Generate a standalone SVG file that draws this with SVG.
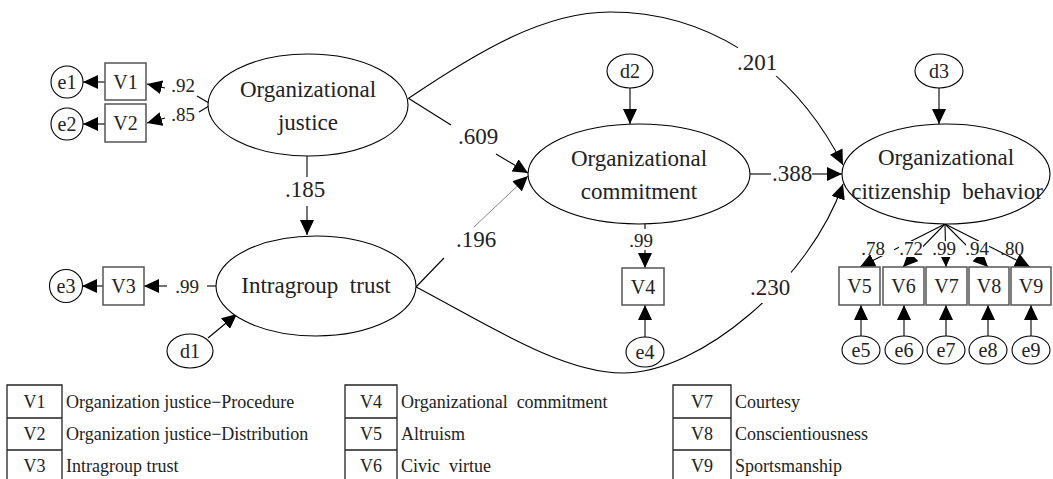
<svg xmlns="http://www.w3.org/2000/svg" width="1053" height="479" viewBox="0 0 1053 479" font-family="'Liberation Serif', 'DejaVu Serif', serif">
<defs>
<marker id="ah" markerUnits="userSpaceOnUse" markerWidth="16" markerHeight="14" refX="15" refY="7" orient="auto">
<path d="M0,0 L15,7 L0,14 z" fill="#000"/>
</marker>
<style>
text{font-family:'Liberation Serif','DejaVu Serif',serif;fill:#222;text-anchor:middle}
.big{font-size:23px}
.sm{font-size:20px}
.lab{font-size:19px}
.lg{font-size:18px}
.lgl{font-size:18px;text-anchor:start}
.ov{fill:#fff;stroke:#000;stroke-width:1.1}
.bx{fill:#fff;stroke:#555;stroke-width:1.5}
.c{fill:none;stroke:#000;stroke-width:1.1}
.ca{fill:none;stroke:#000;stroke-width:1.1;marker-end:url(#ah)}
.cg{fill:none;stroke:#888;stroke-width:1;marker-end:url(#ah)}
.bg{fill:#fff}
.tb{stroke:#222;stroke-width:1.3;fill:none}
</style>
</defs>
<rect width="1053" height="479" fill="#fff"/>

<g id="connectors">
<path class="ca" d="M105,82 L83,82"/>
<path class="ca" d="M105,124 L83,124"/>
<path class="c" d="M209,103 L197,96"/>
<path class="ca" d="M165,88 L147,84"/>
<path class="c" d="M209,106 L199,112"/>
<path class="ca" d="M165,118 L147,123"/>
<path class="c" d="M217,286 L207,286"/>
<path class="ca" d="M167,286 L144,286"/>
<path class="ca" d="M103,286 L82,286"/>
<path class="ca" d="M208,338 L237,314"/>
<path class="c" d="M307,156 L307,177"/>
<path class="ca" d="M307,206 L307,235"/>
<path class="c" d="M408,98 L451,125"/>
<path class="ca" d="M496,154 L528,173"/>
<path class="c" d="M416,287 L444,258"/>
<path class="cg" d="M474,227 L528,176"/>
<path class="ca" d="M630,88 L630,124"/>
<path class="c" d="M645,224 L645,229"/>
<path class="ca" d="M645,250 L645,268"/>
<path class="ca" d="M645,337 L645,305"/>
<path class="c" d="M750,174 L771,174"/>
<path class="ca" d="M812,174 L842,174"/>
<path class="ca" d="M939,88 L939,124"/>
<path class="ca" d="M409,98 C480,50 545,12 610,12 C700,12 790,60 843,165"/>
<path class="ca" d="M416,287 C480,320 560,373 623,373 C700,373 810,280 843,184"/>
<path class="ca" d="M945,224 L860,267"/>
<path class="ca" d="M945,224 L903,267"/>
<path class="ca" d="M945,224 L946,267"/>
<path class="ca" d="M945,224 L988,267"/>
<path class="ca" d="M945,224 L1030,267"/>
<path class="ca" d="M861,336 L861,305"/>
<path class="ca" d="M904,336 L904,305"/>
<path class="ca" d="M946,336 L946,305"/>
<path class="ca" d="M988,336 L988,305"/>
<path class="ca" d="M1031,336 L1031,305"/>
</g>

<g id="labels">
<text class="lab" x="183" y="92">.92</text>
<text class="lab" x="183" y="121">.85</text>
<text class="lab" x="187" y="293">.99</text>
<text class="big" x="305" y="197">.185</text>
<text class="big" x="478" y="144">.609</text>
<text class="big" x="476" y="247">.196</text>
<text class="lab" x="641" y="247">.99</text>
<text class="big" x="792" y="181">.388</text>
<rect class="bg" x="738" y="46" width="40" height="30"/>
<text class="big" x="757" y="70">.201</text>
<rect class="bg" x="749" y="272" width="42" height="31"/>
<text class="big" x="770" y="295">.230</text>
<rect class="bg" x="881" y="241" width="13" height="15"/>
<text class="lab" x="873" y="255">.78</text>
<rect class="bg" x="899" y="241" width="24" height="16"/>
<text class="lab" x="911" y="255">.72</text>
<rect class="bg" x="933" y="241" width="23" height="16"/>
<text class="lab" x="944" y="255">.99</text>
<rect class="bg" x="966" y="241" width="23" height="16"/>
<text class="lab" x="977" y="255">.94</text>
<text class="lab" x="1012" y="255">.80</text>
</g>

<g id="e1"><ellipse class="ov" cx="67" cy="82" rx="16" ry="16"/><text class="sm" x="67" y="89">e1</text></g>
<g id="e2"><ellipse class="ov" cx="67" cy="124" rx="16" ry="16"/><text class="sm" x="67" y="131">e2</text></g>
<g id="V1"><rect class="bx" x="105" y="63" width="41" height="37"/><text class="sm" x="125.5" y="89">V1</text></g>
<g id="V2"><rect class="bx" x="105" y="104" width="41" height="38"/><text class="sm" x="125.5" y="130">V2</text></g>
<g id="e3"><ellipse class="ov" cx="66" cy="286" rx="16.5" ry="16.5"/><text class="sm" x="66" y="293">e3</text></g>
<g id="V3"><rect class="bx" x="103" y="267" width="41" height="38"/><text class="sm" x="123.5" y="293">V3</text></g>
<g id="OJ"><ellipse class="ov" cx="308" cy="105" rx="100" ry="51"/><text class="big" x="308" y="97">Organizational</text><text class="big" x="308" y="130">justice</text></g>
<g id="IT"><ellipse class="ov" cx="316" cy="286" rx="100" ry="50"/><text class="big" x="316" y="293">Intragroup&#160; trust</text></g>
<g id="d1"><ellipse class="ov" cx="190" cy="351" rx="23" ry="17"/><text class="sm" x="190" y="358">d1</text></g>
<g id="OC"><ellipse class="ov" cx="639" cy="174" rx="111" ry="50"/><text class="big" x="639" y="166">Organizational</text><text class="big" x="639" y="199">commitment</text></g>
<g id="d2"><ellipse class="ov" cx="630" cy="71" rx="23" ry="17"/><text class="sm" x="630" y="78">d2</text></g>
<g id="V4"><rect class="bx" x="622" y="268" width="42" height="37"/><text class="sm" x="643" y="294">V4</text></g>
<g id="e4"><ellipse class="ov" cx="645" cy="352" rx="19" ry="15"/><text class="sm" x="645" y="359">e4</text></g>
<g id="OCB"><ellipse class="ov" cx="946" cy="174" rx="104" ry="50"/><text class="big" x="946" y="165">Organizational</text><text class="big" x="947" y="199">citizenship&#160; behavior</text></g>
<g id="d3"><ellipse class="ov" cx="939" cy="71" rx="24" ry="17"/><text class="sm" x="939" y="78">d3</text></g>
<g id="V5"><rect class="bx" x="839" y="267" width="41" height="38"/><text class="sm" x="859.5" y="293">V5</text></g>
<g id="V6"><rect class="bx" x="883" y="267" width="41" height="38"/><text class="sm" x="903.5" y="293">V6</text></g>
<g id="V7"><rect class="bx" x="926" y="267" width="41" height="38"/><text class="sm" x="946.5" y="293">V7</text></g>
<g id="V8"><rect class="bx" x="969" y="267" width="40" height="38"/><text class="sm" x="989" y="293">V8</text></g>
<g id="V9"><rect class="bx" x="1011" y="267" width="40" height="38"/><text class="sm" x="1031" y="293">V9</text></g>
<g id="e5"><ellipse class="ov" cx="861" cy="350" rx="19" ry="14"/><text class="sm" x="861" y="357">e5</text></g>
<g id="e6"><ellipse class="ov" cx="904" cy="350" rx="19" ry="14"/><text class="sm" x="904" y="357">e6</text></g>
<g id="e7"><ellipse class="ov" cx="946" cy="350" rx="19" ry="14"/><text class="sm" x="946" y="357">e7</text></g>
<g id="e8"><ellipse class="ov" cx="988" cy="350" rx="19" ry="14"/><text class="sm" x="988" y="357">e8</text></g>
<g id="e9"><ellipse class="ov" cx="1031" cy="350" rx="19" ry="14"/><text class="sm" x="1031" y="357">e9</text></g>

<g id="legend">
<path class="tb" d="M7,481 L7,385 L62,385 L62,481 M7,418 L62,418 M7,450 L62,450"/>
<path class="tb" d="M345,481 L345,385 L397,385 L397,481 M345,418 L397,418 M345,450 L397,450"/>
<path class="tb" d="M673,481 L673,385 L731,385 L731,481 M673,418 L731,418 M673,450 L731,450"/>
<text class="lg" x="34.5" y="408">V1</text>
<text class="lg" x="34.5" y="440">V2</text>
<text class="lg" x="34.5" y="472">V3</text>
<text class="lgl" x="66" y="408">Organization justice−Procedure</text>
<text class="lgl" x="66" y="440">Organization justice−Distribution</text>
<text class="lgl" x="66" y="472">Intragroup trust</text>
<text class="lg" x="371" y="408">V4</text>
<text class="lg" x="371" y="440">V5</text>
<text class="lg" x="371" y="472">V6</text>
<text class="lgl" x="401" y="408">Organizational&#160; commitment</text>
<text class="lgl" x="401" y="440">Altruism</text>
<text class="lgl" x="401" y="472">Civic&#160; virtue</text>
<text class="lg" x="702" y="408">V7</text>
<text class="lg" x="702" y="440">V8</text>
<text class="lg" x="702" y="472">V9</text>
<text class="lgl" x="735" y="408">Courtesy</text>
<text class="lgl" x="735" y="440">Conscientiousness</text>
<text class="lgl" x="735" y="472">Sportsmanship</text>
</g>
</svg>
